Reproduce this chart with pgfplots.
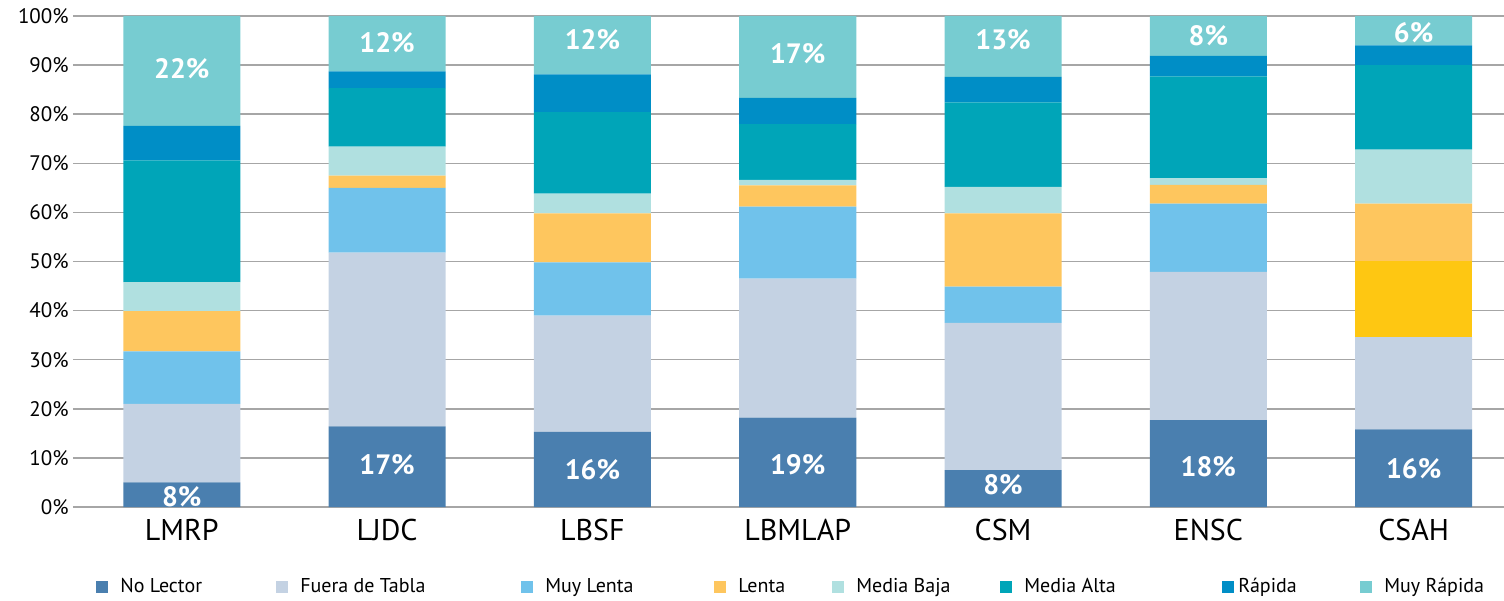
\documentclass[border=0pt]{standalone}
\usepackage{pgfplots}
\pgfplotsset{compat=1.18}
\usepackage{fontspec}
\setmainfont{PT Sans}
\definecolor{cNL}{HTML}{4A7FAF}
\definecolor{cFT}{HTML}{C4D2E3}
\definecolor{cML}{HTML}{70C2EB}
\definecolor{cYE}{HTML}{FEC712}
\definecolor{cL}{HTML}{FEC65E}
\definecolor{cMB}{HTML}{B0E0E0}
\definecolor{cMA}{HTML}{00A5B8}
\definecolor{cR}{HTML}{008EC6}
\definecolor{cMR}{HTML}{77CCD1}
\definecolor{cGrid}{HTML}{A6A6A6}
\begin{document}
\begin{tikzpicture}
\useasboundingbox (-36.5pt,-46.5pt) rectangle (715.5pt,253.5pt);
\pgfplotsset{
  common/.style={
    scale only axis, width=715.5pt, height=245.5pt,
    at={(0,0)}, anchor=south west,
    xmin=-0.53, xmax=6.44, ymin=0, ymax=100,
  }
}
\begin{axis}[
  common,
  ybar stacked, bar width=0.57,
  axis line style={draw=none}, tick style={draw=none},
  ymajorgrids, grid style={cGrid, line width=0.75pt},
  ytick={0,10,...,100}, major tick length=0pt,
  xtick={0,...,6},
  xticklabels={LMRP,LJDC,LBSF,LBMLAP,CSM,ENSC,CSAH},
  /pgf/number format/assume math mode=true,
  yticklabel={\pgfmathprintnumber{\tick}\%},
  yticklabel style={font=\fontsize{10.5}{12}\selectfont, anchor=east, inner sep=0pt, xshift=-2pt},
  xticklabel style={font=\fontsize{15}{17}\selectfont, anchor=north, inner sep=0pt, yshift=-6pt},
  legend columns=8,
  legend style={at={(0.5026,-0.163)}, anchor=center, draw=none, fill=none,
    font=\fontsize{10}{12}\selectfont, column sep=0pt, inner sep=0pt,
    /tikz/every even column/.append style={column sep=0pt}},
  legend cell align=left,
  legend image code/.code={\fill[#1] (0pt,-3pt) rectangle (6pt,3pt);},
]
\addplot[fill=cNL, draw=none] coordinates {(0,5.0) (1,16.4) (2,15.3) (3,18.2) (4,7.5) (5,17.7) (6,15.8)};
\addplot[fill=cFT, draw=none] coordinates {(0,16.0) (1,35.4) (2,23.7) (3,28.3) (4,30.0) (5,30.2) (6,18.8)};
\addplot[fill=cML, draw=none] coordinates {(0,10.7) (1,13.2) (2,10.8) (3,14.7) (4,7.4) (5,13.9) (6,0)};
\addplot[fill=cYE, draw=none, forget plot] coordinates {(0,0) (1,0) (2,0) (3,0) (4,0) (5,0) (6,15.5)};
\addplot[fill=cL, draw=none] coordinates {(0,8.2) (1,2.5) (2,10.0) (3,4.3) (4,14.9) (5,3.8) (6,11.7)};
\addplot[fill=cMB, draw=none] coordinates {(0,5.9) (1,5.9) (2,4.0) (3,1.1) (4,5.4) (5,1.4) (6,11.0)};
\addplot[fill=cMA, draw=none] coordinates {(0,24.8) (1,11.9) (2,16.6) (3,11.4) (4,17.2) (5,20.7) (6,17.2)};
\addplot[fill=cR, draw=none] coordinates {(0,7.0) (1,3.4) (2,7.7) (3,5.3) (4,5.2) (5,4.2) (6,4.0)};
\addplot[fill=cMR, draw=none] coordinates {(0,22.4) (1,11.3) (2,11.9) (3,16.7) (4,12.4) (5,8.1) (6,6.0)};
\legend{\hspace{4pt}\makebox[76pt][l]{No Lector},\hspace{4pt}\makebox[108.5pt][l]{Fuera de Tabla},\hspace{4pt}\makebox[82.5pt][l]{Muy Lenta},\hspace{4pt}\makebox[45pt][l]{Lenta},\hspace{4pt}\makebox[70pt][l]{Media Baja},\hspace{4pt}\makebox[97pt][l]{Media Alta},\makebox[59pt][l]{Rápida},\hspace{4pt}Muy Rápida}
\end{axis}
\begin{axis}[
  common, hide axis,
  nodes near coords, point meta=explicit symbolic,
  every node near coord/.append style={anchor=center, text=white, font=\fontsize{14}{16}\selectfont\bfseries, inner sep=0pt},
]
\addplot[draw=none, mark=none] coordinates {(0,2.1)[8\%] (1,8.6)[17\%] (2,7.5)[16\%] (3,8.6)[19\%] (4,4.5)[8\%] (5,8.3)[18\%] (6,7.9)[16\%]};
\addplot[draw=none, mark=none] coordinates {(0,89.2)[22\%] (1,94.6)[12\%] (2,95.1)[12\%] (3,92.4)[17\%] (4,95.1)[13\%] (5,95.9)[8\%] (6,96.7)[6\%]};
\end{axis}
\end{tikzpicture}
\end{document}
